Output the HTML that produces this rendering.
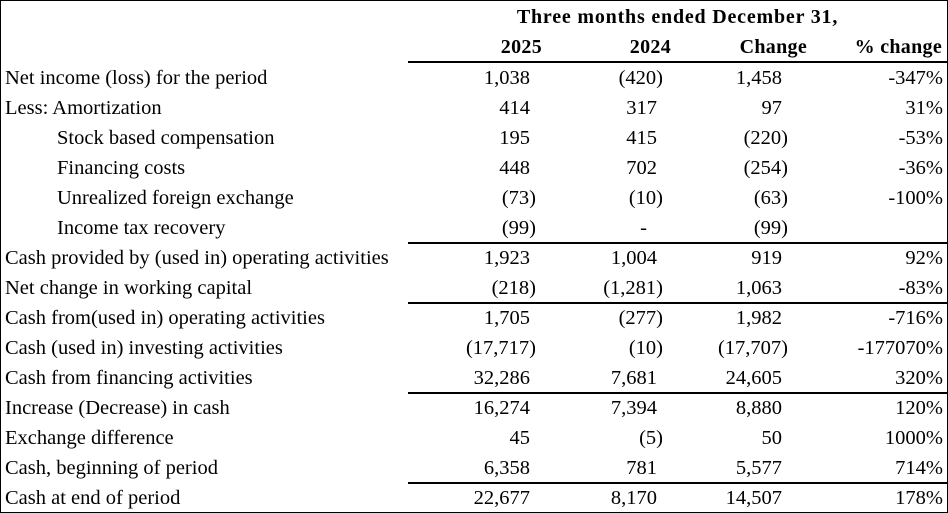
<!DOCTYPE html>
<html><head><meta charset="utf-8"><style>
body{margin:0;background:#fff;}
#w{position:relative;width:946px;height:511px;border:1px solid #000;overflow:hidden;font-family:"Liberation Serif","Times New Roman","DejaVu Serif",serif;font-size:20.5px;color:#000;}
.r{position:absolute;left:0;width:946px;height:30px;line-height:30px;}
.l{position:absolute;left:4px;white-space:nowrap;}
.i{left:56px;}
.n{position:absolute;white-space:nowrap;text-align:right;}
.a{right:417px}.b{right:290px}.c{right:165px}.d{right:4px}
.p{transform:translateX(6px);}
.h{font-weight:bold;letter-spacing:0.3px;font-size:20px;}
.ln{position:absolute;left:407px;right:0;height:2px;background:#000;}
</style></head><body><div id="w">
<div class="r h" style="top:1px;letter-spacing:0.8px"><span class="n" style="left:407px;right:0;text-align:center;display:block;">Three months ended December 31,</span></div>
<div class="r h" style="top:31px"><span class="n" style="right:405px">2025</span><span class="n" style="right:276px">2024</span><span class="n" style="right:140px">Change</span><span class="n" style="right:5px">% change</span></div>
<div class="ln" style="top:60px"></div>

<div class="r" style="top:62px"><span class="l">Net income (loss) for the period</span><span class="n a">1,038</span><span class="n b p">(420)</span><span class="n c">1,458</span><span class="n d">-347%</span></div>
<div class="r" style="top:92px"><span class="l">Less: Amortization</span><span class="n a">414</span><span class="n b">317</span><span class="n c">97</span><span class="n d">31%</span></div>
<div class="r" style="top:122px"><span class="l i">Stock based compensation</span><span class="n a">195</span><span class="n b">415</span><span class="n c p">(220)</span><span class="n d">-53%</span></div>
<div class="r" style="top:152px"><span class="l i">Financing costs</span><span class="n a">448</span><span class="n b">702</span><span class="n c p">(254)</span><span class="n d">-36%</span></div>
<div class="r" style="top:182px"><span class="l i">Unrealized foreign exchange</span><span class="n a p">(73)</span><span class="n b p">(10)</span><span class="n c p">(63)</span><span class="n d">-100%</span></div>
<div class="r" style="top:212px"><span class="l i">Income tax recovery</span><span class="n a p">(99)</span><span class="n b" style="right:300px">-</span><span class="n c p">(99)</span></div>
<div class="ln" style="top:241px"></div>
<div class="r" style="top:242px"><span class="l">Cash provided by (used in) operating activities</span><span class="n a">1,923</span><span class="n b">1,004</span><span class="n c">919</span><span class="n d">92%</span></div>
<div class="r" style="top:272px"><span class="l">Net change in working capital</span><span class="n a p">(218)</span><span class="n b p">(1,281)</span><span class="n c">1,063</span><span class="n d">-83%</span></div>
<div class="ln" style="top:301px"></div>
<div class="r" style="top:302px"><span class="l">Cash from(used in) operating activities</span><span class="n a">1,705</span><span class="n b p">(277)</span><span class="n c">1,982</span><span class="n d">-716%</span></div>
<div class="r" style="top:332px"><span class="l">Cash (used in) investing activities</span><span class="n a p">(17,717)</span><span class="n b p">(10)</span><span class="n c p">(17,707)</span><span class="n d">-177070%</span></div>
<div class="r" style="top:362px"><span class="l">Cash from financing activities</span><span class="n a">32,286</span><span class="n b">7,681</span><span class="n c">24,605</span><span class="n d">320%</span></div>
<div class="ln" style="top:391px"></div>
<div class="r" style="top:392px"><span class="l">Increase (Decrease) in cash</span><span class="n a">16,274</span><span class="n b">7,394</span><span class="n c">8,880</span><span class="n d">120%</span></div>
<div class="r" style="top:422px"><span class="l">Exchange difference</span><span class="n a">45</span><span class="n b p">(5)</span><span class="n c">50</span><span class="n d">1000%</span></div>
<div class="r" style="top:452px"><span class="l">Cash, beginning of period</span><span class="n a">6,358</span><span class="n b">781</span><span class="n c">5,577</span><span class="n d">714%</span></div>
<div class="ln" style="top:481px"></div>
<div class="r" style="top:482px"><span class="l">Cash at end of period</span><span class="n a">22,677</span><span class="n b">8,170</span><span class="n c">14,507</span><span class="n d">178%</span></div>
</div></body></html>
